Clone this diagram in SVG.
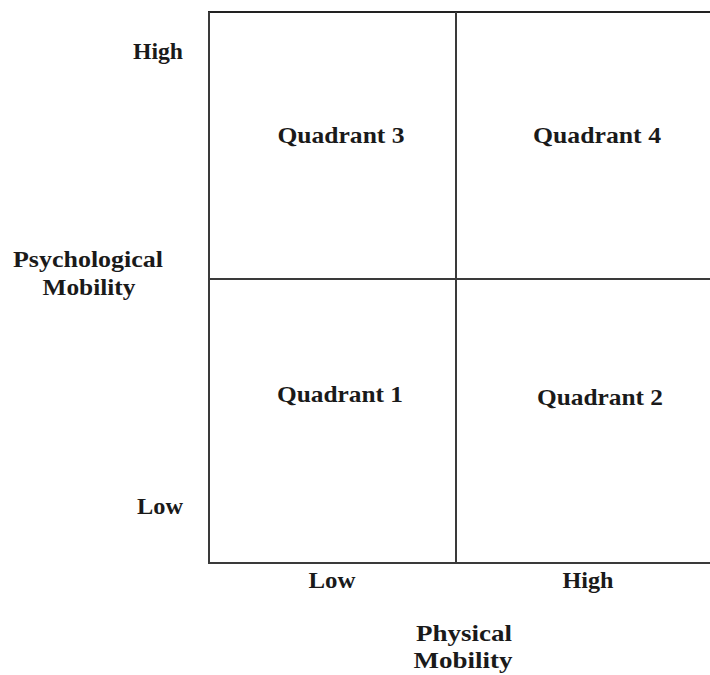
<svg xmlns="http://www.w3.org/2000/svg" width="710" height="675" viewBox="0 0 710 675">
<style>
.t{font-family:"Liberation Serif","Times New Roman",serif;font-weight:bold;font-size:24px;fill:#1a1a1a;text-anchor:middle}
.ln{stroke:#3a3a3a;stroke-width:2;fill:none}
</style>
<rect width="710" height="675" fill="#ffffff"/>
<g id="connectors">
<line class="ln" x1="208" y1="12" x2="710" y2="12" style="stroke:#222"/>
<line class="ln" x1="209" y1="12" x2="209" y2="563"/>
<line class="ln" x1="208" y1="563" x2="710" y2="563"/>
<line class="ln" x1="456" y1="12" x2="456" y2="563"/>
<line class="ln" x1="209" y1="279" x2="710" y2="279"/>
</g>
<g id="quadrant3"><text class="t" x="341" y="143" textLength="127" lengthAdjust="spacingAndGlyphs">Quadrant 3</text></g>
<g id="quadrant4"><text class="t" x="597" y="143" textLength="128" lengthAdjust="spacingAndGlyphs">Quadrant 4</text></g>
<g id="quadrant1"><text class="t" x="340" y="402" textLength="126" lengthAdjust="spacingAndGlyphs">Quadrant 1</text></g>
<g id="quadrant2"><text class="t" x="600" y="405" textLength="126" lengthAdjust="spacingAndGlyphs">Quadrant 2</text></g>
<g id="y-axis">
<text class="t" x="158" y="59" textLength="50" lengthAdjust="spacingAndGlyphs">High</text>
<text class="t" x="160" y="514" textLength="46" lengthAdjust="spacingAndGlyphs">Low</text>
<text class="t" x="88" y="267" textLength="150" lengthAdjust="spacingAndGlyphs">Psychological</text>
<text class="t" x="89" y="295" textLength="93" lengthAdjust="spacingAndGlyphs">Mobility</text>
</g>
<g id="x-axis">
<text class="t" x="332" y="588" textLength="47" lengthAdjust="spacingAndGlyphs">Low</text>
<text class="t" x="588" y="588" textLength="51" lengthAdjust="spacingAndGlyphs">High</text>
<text class="t" x="464" y="641" textLength="96" lengthAdjust="spacingAndGlyphs">Physical</text>
<text class="t" x="463" y="668" textLength="99" lengthAdjust="spacingAndGlyphs">Mobility</text>
</g>
</svg>
